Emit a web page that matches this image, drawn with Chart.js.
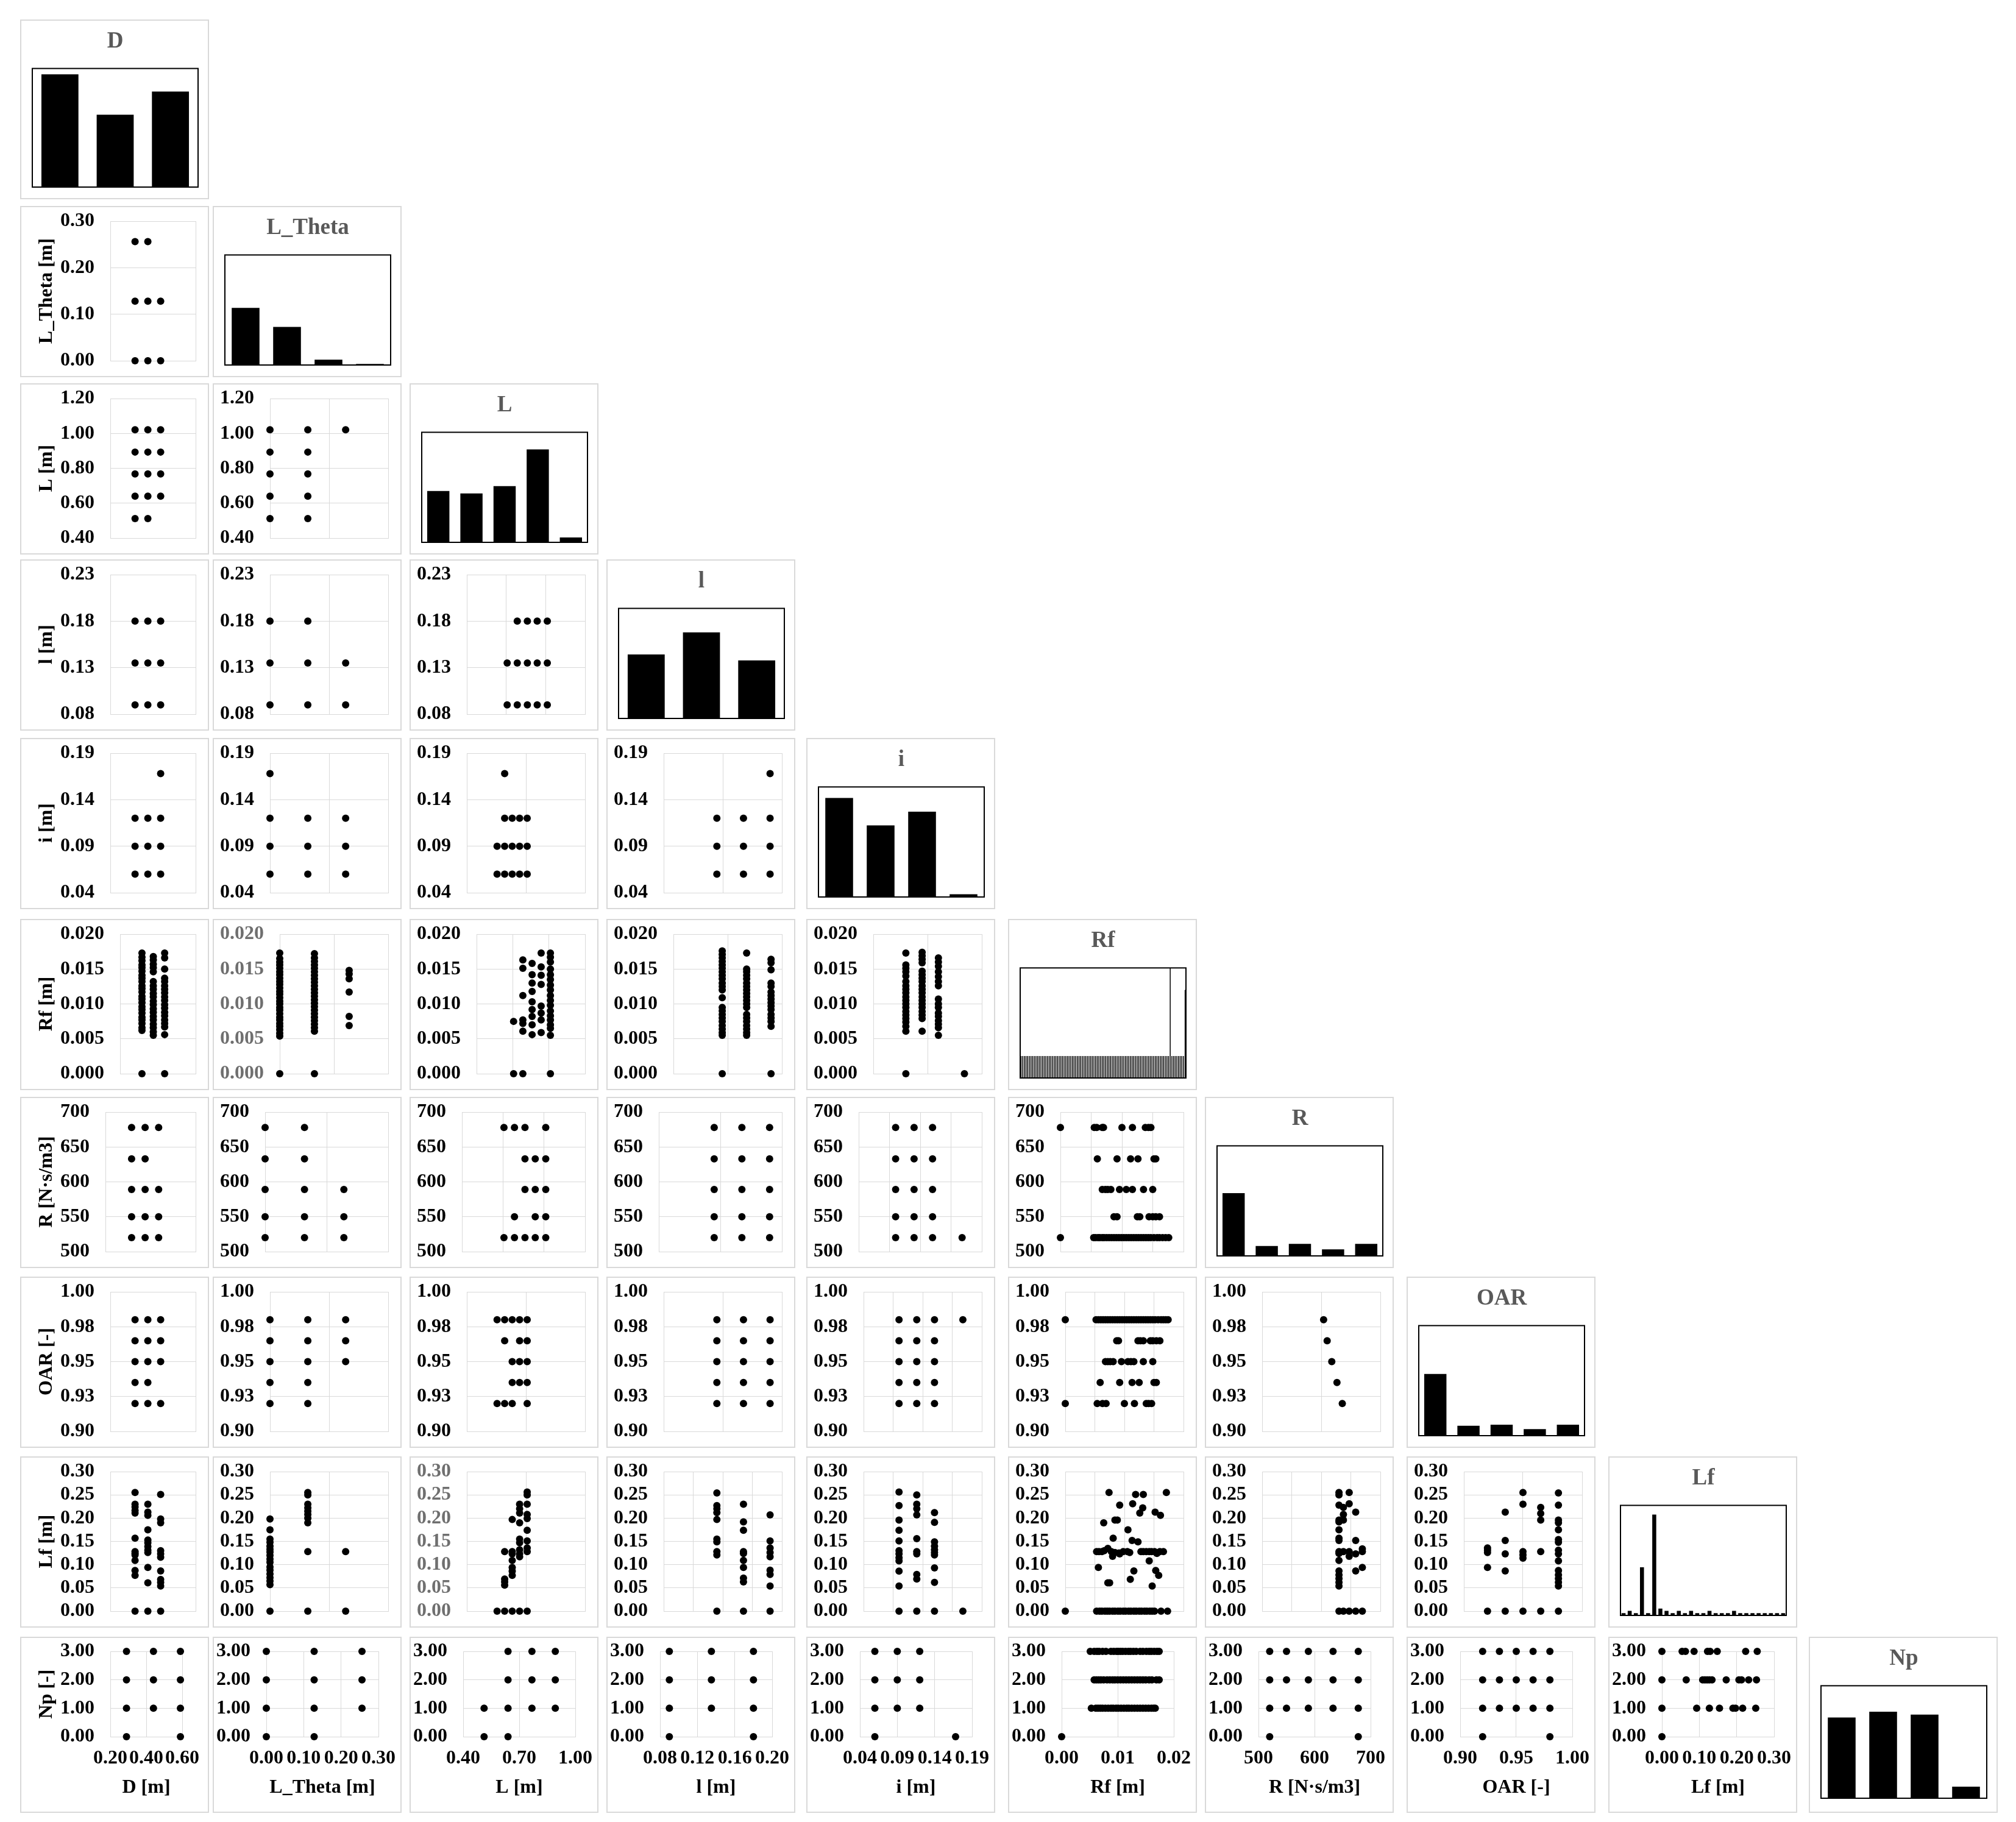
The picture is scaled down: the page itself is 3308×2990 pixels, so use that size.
<!DOCTYPE html>
<html>
<head>
<meta charset="utf-8">
<script src="https://cdn.jsdelivr.net/npm/chart.js@4.4.1/dist/chart.umd.min.js"></script>
<style>
html, body { margin: 0; padding: 0; background: #fff; }
#page { position: relative; width: 3308px; height: 2990px; overflow: hidden; background: #fff; }
.cell { position: absolute; box-sizing: border-box; border: 2px solid #d9d9d9; background: #fff; }
.cell canvas { display: block; }
</style>
</head>
<body>
<div id="page"></div>
<script>
// ---------------------------------------------------------------------------
// VARIABLES
// ---------------------------------------------------------------------------

const VARS        = ['D', 'L_Theta', 'L', 'l', 'i', 'Rf', 'R', 'OAR', 'Lf', 'Np'];
const AXIS_TITLES = ['D [m]', 'L_Theta [m]', 'L [m]', 'l [m]', 'i [m]', 'Rf [m]', 'R [N·s/m3]', 'OAR [-]', 'Lf [m]', 'Np [-]'];

// axes y par ligne (ligne 0 = histogramme D)
const Y_MIN  = [null, 0,    0.4, 0.08, 0.04, 0,     500, 0.9,   0,    0];
const Y_MAX  = [null, 0.3,  1.2, 0.23, 0.19, 0.02,  700, 1.0,   0.3,  3];
const Y_STEP = [null, 0.1,  0.2, 0.05, 0.05, 0.005, 50,  0.025, 0.05, 1];
const Y_DEC  = [null, 2,    2,   2,    2,    3,     0,   2,     2,    2];

// axes x de la dernière ligne : [min, max, pas]
const X_BOTTOM = [
    [0.2, 0.6, 0.2], [0, 0.3, 0.1], [0.4, 1.0, 0.3], [0.08, 0.2, 0.04], [0.04, 0.19, 0.05],
    [0, 0.02, 0.01], [500, 700, 100], [0.9, 1.0, 0.05], [0, 0.3, 0.1],
];
const X_DEC = [2, 2, 2, 2, 2, 2, 0, 2, 2];

// ---------------------------------------------------------------------------
// HISTOGRAMMES (effectifs)
// ---------------------------------------------------------------------------

const HIST_D      = [39, 25, 33];
const HIST_LTHETA = [54, 36, 5, 1];
const HIST_L      = [21, 20, 23, 38, 2];
const HIST_l      = [32, 43, 29];
const HIST_i      = [36, 26, 31, 1];
const HIST_RF     = [
    1, 1, 1, 1, 1, 1, 1, 1, 1, 1, 1, 1, 1, 1, 1, 1, 1, 1, 1, 1,
    1, 1, 1, 1, 1, 1, 1, 1, 1, 1, 1, 1, 1, 1, 1, 1, 1, 1, 1, 1,
    1, 1, 1, 1, 1, 1, 1, 1, 1, 1, 1, 1, 1, 1, 1, 1, 1, 1, 1, 1,
    1, 1, 1, 1, 1, 1, 1, 1, 1, 1, 1, 1, 1, 1, 1, 1, 1, 1, 1, 1,
    1, 1, 1, 1, 1, 1, 1, 1, 1, 1, 5, 1, 1, 1, 1, 1, 1, 1, 1, 4,
];
const HIST_R      = [57, 9, 11, 6, 11];
const HIST_OAR    = [56, 9, 10, 6, 10];
const HIST_LF     = [1, 2, 1, 21, 1, 44, 3, 2, 1, 2, 1, 2, 1, 1, 2, 1, 1, 1, 2, 1, 1, 1, 1, 1, 1, 1, 1];
const HIST_NP     = [28, 30, 29, 4];

// ---------------------------------------------------------------------------
// NUAGES — colonnes [x, [y...]] ou lignes [y, [x...]] ou paires [x, y]
// ---------------------------------------------------------------------------

const LTHETA_VS_D = [[0.29, [0, 0.128, 0.256]], [0.44, [0, 0.128, 0.256]], [0.59, [0, 0.128]]];

const L_VS_D      = [[0.29, [0.512, 0.64, 0.768, 0.893, 1.021]], [0.44, [0.512, 0.64, 0.768, 0.893, 1.021]], [0.59, [0.64, 0.768, 0.893, 1.021]]];
const L_VS_LTHETA = [[0, [0.512, 0.64, 0.768, 0.893, 1.021]], [0.128, [0.512, 0.64, 0.768, 0.893, 1.021]], [0.256, [1.021]]];

const l_VS_D      = [[0.29, [0.09, 0.135, 0.18]], [0.44, [0.09, 0.135, 0.18]], [0.59, [0.09, 0.135, 0.18]]];
const l_VS_LTHETA = [[0, [0.09, 0.135, 0.18]], [0.128, [0.09, 0.135, 0.18]], [0.256, [0.09, 0.135]]];
const l_VS_L      = [[0.512, [0.09, 0.135]], [0.64, [0.09, 0.135, 0.18]], [0.768, [0.09, 0.135, 0.18]], [0.893, [0.09, 0.135, 0.18]], [1.021, [0.09, 0.135, 0.18]]];

const i_VS_D      = [[0.29, [0.06, 0.09, 0.12]], [0.44, [0.06, 0.09, 0.12]], [0.59, [0.06, 0.09, 0.12, 0.168]]];
const i_VS_LTHETA = [[0, [0.06, 0.09, 0.12, 0.168]], [0.128, [0.06, 0.09, 0.12]], [0.256, [0.06, 0.09, 0.12]]];
const i_VS_L      = [[0.512, [0.06, 0.09]], [0.64, [0.06, 0.09, 0.12, 0.168]], [0.768, [0.06, 0.09, 0.12]], [0.893, [0.06, 0.09, 0.12]], [1.021, [0.06, 0.09, 0.12]]];
const i_VS_l      = [[0.09, [0.06, 0.09, 0.12]], [0.135, [0.06, 0.09, 0.12]], [0.18, [0.06, 0.09, 0.12, 0.168]]];

const RF_VS_D = [
    [0.29, [0, 0.0062, 0.0066, 0.0072, 0.0077, 0.0081, 0.0087, 0.0092, 0.0096, 0.0102, 0.0107, 0.0111, 0.0117, 0.0122, 0.0126, 0.0132, 0.0137, 0.0141, 0.0147, 0.0152, 0.0156, 0.0162, 0.0167, 0.0173]],
    [0.44, [0.0055, 0.006, 0.0066, 0.0071, 0.0077, 0.0082, 0.0088, 0.0093, 0.0099, 0.0104, 0.011, 0.0115, 0.0121, 0.0126, 0.0132, 0.0146, 0.0152, 0.0157, 0.0163, 0.0168]],
    [0.59, [0, 0.0056, 0.0067, 0.0072, 0.0077, 0.0083, 0.0088, 0.0094, 0.0099, 0.0105, 0.011, 0.0116, 0.0121, 0.0126, 0.0132, 0.0137, 0.015, 0.0166, 0.0173]],
];
const RF_VS_LTHETA = [
    [0, [0, 0.0054, 0.0058, 0.0063, 0.0068, 0.0072, 0.0077, 0.0081, 0.0086, 0.0091, 0.0095, 0.01, 0.0104, 0.0109, 0.0114, 0.0118, 0.0123, 0.0128, 0.0132, 0.0137, 0.0142, 0.0146, 0.0151, 0.0156, 0.016, 0.0165, 0.0173]],
    [0.128, [0, 0.0061, 0.0066, 0.0071, 0.0076, 0.0081, 0.0086, 0.0091, 0.0096, 0.0101, 0.0106, 0.0111, 0.0116, 0.0121, 0.0126, 0.0131, 0.0136, 0.0141, 0.0146, 0.0151, 0.0156, 0.0161, 0.0166, 0.0172]],
    [0.256, [0.0069, 0.0082, 0.0117, 0.0136, 0.0143, 0.0148]],
];
const RF_VS_L = [
    [0.512, [0, 0.0075]],
    [0.64,  [0, 0.0061, 0.0072, 0.0077, 0.0112, 0.0151, 0.0163]],
    [0.768, [0.0056, 0.007, 0.0082, 0.0092, 0.0103, 0.0118, 0.013, 0.0142, 0.0158]],
    [0.893, [0.0059, 0.0077, 0.0087, 0.0097, 0.0128, 0.0141, 0.0153, 0.0173]],
    [1.021, [0, 0.0055, 0.0065, 0.007, 0.0077, 0.0083, 0.009, 0.0098, 0.0105, 0.0112, 0.012, 0.0127, 0.0135, 0.0142, 0.015, 0.016, 0.0167, 0.0173]],
];
const RF_VS_l = [
    [0.09,  [0, 0.0055, 0.0059, 0.0064, 0.0069, 0.0075, 0.008, 0.0085, 0.009, 0.0095, 0.0109, 0.012, 0.0125, 0.013, 0.0136, 0.0141, 0.0146, 0.0151, 0.0156, 0.0161, 0.0166, 0.0171, 0.0176]],
    [0.135, [0.0055, 0.0059, 0.0064, 0.0069, 0.0075, 0.008, 0.0085, 0.0095, 0.01, 0.0105, 0.011, 0.0115, 0.012, 0.0125, 0.013, 0.0136, 0.0141, 0.0146, 0.015, 0.0173]],
    [0.18,  [0, 0.0068, 0.0075, 0.008, 0.0085, 0.0092, 0.0097, 0.0102, 0.0107, 0.0112, 0.0117, 0.0125, 0.013, 0.0149, 0.0159, 0.0164]],
];
const RF_VS_i = [
    [0.06,  [0, 0.0061, 0.0068, 0.0074, 0.0079, 0.0084, 0.0089, 0.0095, 0.01, 0.0105, 0.011, 0.0116, 0.0121, 0.0126, 0.0132, 0.014, 0.0146, 0.0151, 0.0156, 0.0173]],
    [0.09,  [0.0061, 0.0079, 0.0084, 0.0089, 0.0095, 0.01, 0.0105, 0.011, 0.0116, 0.0121, 0.0126, 0.0132, 0.0137, 0.0142, 0.0147, 0.0159, 0.0164, 0.0169, 0.0174]],
    [0.12,  [0.0055, 0.0066, 0.0071, 0.0076, 0.0082, 0.0087, 0.0095, 0.01, 0.0107, 0.0126, 0.0132, 0.0139, 0.0146, 0.0154, 0.016, 0.0166]],
    [0.168, [0]],
];

const R_VS_D      = [[0.29, [520, 550, 589, 633, 678]], [0.44, [520, 550, 589, 633, 678]], [0.59, [520, 550, 589, 678]]];
const R_VS_LTHETA = [[0, [520, 550, 589, 633, 678]], [0.128, [520, 550, 589, 633, 678]], [0.256, [520, 550, 589]]];
const R_VS_L      = [[0.512, [520, 678]], [0.64, [520, 550, 678]], [0.768, [520, 589, 633, 678]], [0.893, [520, 550, 589, 633]], [1.021, [520, 550, 589, 633, 678]]];
const R_VS_l      = [[0.09, [520, 550, 589, 633, 678]], [0.135, [520, 550, 589, 633, 678]], [0.18, [520, 550, 589, 633, 678]]];
const R_VS_i      = [[0.06, [520, 550, 589, 633, 678]], [0.09, [520, 550, 589, 633, 678]], [0.12, [520, 550, 589, 633, 678]], [0.168, [520]]];
const R_VS_RF = [   // lignes [R, [Rf...]]
    [678, [0, 0.0055, 0.0059, 0.0068, 0.007, 0.01, 0.0117, 0.0138, 0.0143, 0.0147]],
    [633, [0.006, 0.0092, 0.0114, 0.0126, 0.0152, 0.0155]],
    [589, [0.0068, 0.0073, 0.0077, 0.0082, 0.0096, 0.0107, 0.0117, 0.0135, 0.015]],
    [550, [0.0087, 0.0092, 0.0125, 0.0129, 0.0144, 0.015, 0.0155, 0.0161]],
    [520, [0, 0.0054, 0.0057, 0.0061, 0.0064, 0.0068, 0.0071, 0.0075, 0.0079, 0.0083, 0.0087, 0.0091, 0.0095, 0.0099, 0.0103, 0.0107, 0.0111, 0.0115, 0.0119, 0.0123, 0.0127, 0.0131, 0.0135, 0.0139, 0.0143, 0.0147, 0.0152, 0.0157, 0.0161, 0.0166, 0.0171, 0.0176]],
];

const OAR_VS_D      = [[0.29, [0.92, 0.935, 0.95, 0.965, 0.98]], [0.44, [0.92, 0.935, 0.95, 0.965, 0.98]], [0.59, [0.92, 0.95, 0.965, 0.98]]];
const OAR_VS_LTHETA = [[0, [0.92, 0.935, 0.95, 0.965, 0.98]], [0.128, [0.92, 0.935, 0.95, 0.965, 0.98]], [0.256, [0.95, 0.965, 0.98]]];
const OAR_VS_L      = [[0.98, [0.512, 0.64, 0.768, 0.893, 1.021]], [0.965, [0.64, 0.893, 1.021]], [0.95, [0.768, 0.893, 1.021]], [0.935, [0.768, 0.893, 1.021]], [0.92, [0.512, 0.64, 0.768, 1.021]]];
const OAR_VS_l      = [[0.09, [0.92, 0.935, 0.95, 0.965, 0.98]], [0.135, [0.92, 0.935, 0.95, 0.965, 0.98]], [0.18, [0.92, 0.935, 0.95, 0.965, 0.98]]];
const OAR_VS_i      = [[0.06, [0.92, 0.935, 0.95, 0.965, 0.98]], [0.09, [0.92, 0.935, 0.95, 0.965, 0.98]], [0.12, [0.92, 0.935, 0.95, 0.965, 0.98]], [0.168, [0.98]]];
const OAR_VS_RF = [   // lignes [OAR, [Rf...]]
    [0.98,  [0, 0.0052, 0.0056, 0.006, 0.0064, 0.0068, 0.0072, 0.0076, 0.008, 0.0084, 0.0088, 0.0092, 0.0096, 0.01, 0.0104, 0.0108, 0.0112, 0.0116, 0.012, 0.0124, 0.0128, 0.0132, 0.0136, 0.014, 0.0144, 0.0148, 0.0152, 0.0157, 0.0162, 0.0166, 0.017, 0.0174]],
    [0.965, [0.0087, 0.009, 0.0123, 0.0127, 0.0132, 0.0144, 0.0148, 0.0154, 0.016]],
    [0.95,  [0.0068, 0.0072, 0.0076, 0.0081, 0.0095, 0.0106, 0.0111, 0.0116, 0.0132, 0.0148]],
    [0.935, [0.0059, 0.0092, 0.0113, 0.0125, 0.015, 0.0154]],
    [0.92,  [0, 0.0054, 0.0063, 0.0069, 0.01, 0.0117, 0.0137, 0.0141, 0.0146]],
];
const OAR_VS_R = [[520, 0.98], [550, 0.965], [589, 0.95], [633, 0.935], [678, 0.92]];

const LF_VS_D = [
    [0.29, [0, 0.077, 0.0875, 0.109, 0.121, 0.124, 0.128, 0.157, 0.211, 0.2165, 0.224, 0.23, 0.255]],
    [0.44, [0, 0.061, 0.094, 0.126, 0.131, 0.139, 0.147, 0.153, 0.175, 0.206, 0.213, 0.23]],
    [0.59, [0, 0.054, 0.062, 0.068, 0.0865, 0.116, 0.123, 0.13, 0.19, 0.198, 0.251]],
];
const LF_VS_LTHETA = [
    [0,     [0, 0.057, 0.065, 0.072, 0.08, 0.088, 0.095, 0.105, 0.112, 0.12, 0.127, 0.133, 0.14, 0.148, 0.155, 0.175, 0.198]],
    [0.128, [0, 0.128, 0.19, 0.2, 0.208, 0.215, 0.222, 0.23, 0.25, 0.255]],
    [0.256, [0, 0.128]],
];
const LF_VS_L = [
    [0.512, [0]],
    [0.64,  [0, 0.056, 0.063, 0.069, 0.128]],
    [0.768, [0, 0.077, 0.086, 0.094, 0.109, 0.123, 0.128, 0.197]],
    [0.893, [0, 0.117, 0.123, 0.132, 0.147, 0.155, 0.19, 0.211, 0.22, 0.23]],
    [1.021, [0, 0.128, 0.136, 0.151, 0.174, 0.199, 0.208, 0.23, 0.25, 0.256]],
];
const LF_VS_l = [
    [0.09,  [0, 0.121, 0.128, 0.149, 0.155, 0.197, 0.212, 0.22, 0.227, 0.254]],
    [0.135, [0, 0.063, 0.071, 0.094, 0.109, 0.124, 0.128, 0.174, 0.192, 0.23]],
    [0.18,  [0, 0.054, 0.079, 0.088, 0.117, 0.126, 0.136, 0.151, 0.207]],
];
const LF_VS_i = [
    [0.06,  [0, 0.054, 0.086, 0.108, 0.115, 0.123, 0.13, 0.151, 0.174, 0.196, 0.227, 0.256]],
    [0.09,  [0, 0.069, 0.079, 0.123, 0.128, 0.156, 0.207, 0.22, 0.23, 0.25]],
    [0.12,  [0, 0.062, 0.093, 0.121, 0.126, 0.132, 0.14, 0.149, 0.191, 0.212]],
    [0.168, [0]],
];
const LF_VS_RF = [   // paires [Rf, Lf]
    [0, 0], [0.0074, 0.255], [0.0119, 0.251], [0.0132, 0.251], [0.0171, 0.255],
    [0.0092, 0.228], [0.0114, 0.231], [0.0131, 0.222], [0.0126, 0.211], [0.0152, 0.213], [0.0161, 0.206],
    [0.0065, 0.19], [0.0084, 0.196], [0.0088, 0.196], [0.0106, 0.175], [0.0081, 0.157], [0.0113, 0.152], [0.0123, 0.149],
    [0.0053, 0.128], [0.0057, 0.128], [0.0062, 0.128], [0.0066, 0.13], [0.0072, 0.135], [0.0078, 0.128], [0.0084, 0.126],
    [0.0091, 0.125], [0.0098, 0.128], [0.0105, 0.128], [0.0109, 0.126], [0.0128, 0.128], [0.0132, 0.128], [0.0137, 0.128],
    [0.0142, 0.128], [0.0146, 0.128], [0.0151, 0.128], [0.0155, 0.124], [0.016, 0.128], [0.0166, 0.128],
    [0.008, 0.118], [0.0092, 0.123], [0.0142, 0.108], [0.0056, 0.094], [0.0116, 0.0865], [0.0153, 0.0875], [0.0158, 0.077],
    [0.011, 0.0686], [0.0072, 0.061], [0.0075, 0.061], [0.0147, 0.054],
    [0.0053, 0], [0.0058, 0], [0.0062, 0], [0.0067, 0], [0.0071, 0], [0.0075, 0], [0.008, 0], [0.0084, 0], [0.0089, 0],
    [0.0093, 0], [0.0098, 0], [0.0102, 0], [0.0107, 0], [0.0111, 0], [0.0116, 0], [0.012, 0], [0.0125, 0], [0.0129, 0],
    [0.0134, 0], [0.0138, 0], [0.0143, 0], [0.0147, 0], [0.0151, 0], [0.0162, 0], [0.0173, 0],
];
const LF_VS_R = [
    [520, [0, 0.054, 0.062, 0.07, 0.078, 0.0865, 0.109, 0.124, 0.128, 0.152, 0.157, 0.175, 0.192, 0.196, 0.228, 0.25, 0.255]],
    [550, [0, 0.128, 0.196, 0.208, 0.223]],
    [589, [0, 0.118, 0.128, 0.231, 0.255]],
    [633, [0, 0.0865, 0.123, 0.152, 0.213]],
    [678, [0, 0.094, 0.128, 0.134]],
];
const LF_VS_OAR = [
    [0.92,  [0, 0.094, 0.126, 0.131, 0.136]],
    [0.935, [0, 0.0865, 0.123, 0.152, 0.213]],
    [0.95,  [0, 0.114, 0.121, 0.128, 0.23, 0.255]],
    [0.965, [0, 0.128, 0.196, 0.21, 0.223]],
    [0.98,  [0, 0.054, 0.062, 0.07, 0.078, 0.0875, 0.108, 0.123, 0.131, 0.148, 0.154, 0.175, 0.19, 0.196, 0.228, 0.254]],
];

// dernière ligne : lignes [Np, [x...]]
const NP_VS_D      = [[3, [0.29, 0.44, 0.59]], [2, [0.29, 0.44, 0.59]], [1, [0.29, 0.44, 0.59]], [0, [0.29, 0.59]]];
const NP_VS_LTHETA = [[3, [0, 0.128, 0.256]], [2, [0, 0.128, 0.256]], [1, [0, 0.128, 0.256]], [0, [0, 0.128]]];
const NP_VS_L      = [[3, [0.64, 0.768, 0.893]], [2, [0.64, 0.768, 0.893]], [1, [0.512, 0.64, 0.768, 0.893]], [0, [0.512, 0.64]]];
const NP_VS_l      = [[3, [0.09, 0.135, 0.18]], [2, [0.09, 0.135, 0.18]], [1, [0.09, 0.135, 0.18]], [0, [0.09, 0.18]]];
const NP_VS_i      = [[3, [0.06, 0.09, 0.12]], [2, [0.06, 0.09, 0.12]], [1, [0.06, 0.09, 0.12]], [0, [0.06, 0.168]]];
const NP_VS_RF = [
    [3, [0.0051, 0.0058, 0.0063, 0.0067, 0.0073, 0.0079, 0.0088, 0.0093, 0.0098, 0.0101, 0.0105, 0.0109, 0.0114, 0.0119, 0.0123, 0.0128, 0.0133, 0.014, 0.0145, 0.0151, 0.0156, 0.016, 0.0165, 0.017, 0.0174]],
    [2, [0.0058, 0.0062, 0.0066, 0.007, 0.0075, 0.0081, 0.0086, 0.0091, 0.0095, 0.01, 0.0105, 0.011, 0.0115, 0.012, 0.0125, 0.013, 0.0135, 0.014, 0.0145, 0.015, 0.0156, 0.0161, 0.0169, 0.0174]],
    [1, [0.0053, 0.0061, 0.0065, 0.0069, 0.0073, 0.0078, 0.0083, 0.0088, 0.0092, 0.0097, 0.0101, 0.0106, 0.0111, 0.0116, 0.012, 0.0125, 0.013, 0.0135, 0.014, 0.0145, 0.015, 0.0155, 0.016, 0.0164, 0.0167]],
    [0, [0]],
];
const NP_VS_R   = [[3, [520, 550, 589, 633, 678]], [2, [520, 550, 589, 633, 678]], [1, [520, 550, 589, 633, 678]], [0, [520, 678]]];
const NP_VS_OAR = [[3, [0.92, 0.935, 0.95, 0.965, 0.98]], [2, [0.92, 0.935, 0.95, 0.965, 0.98]], [1, [0.92, 0.935, 0.95, 0.965, 0.98]], [0, [0.92, 0.98]]];
const NP_VS_LF  = [
    [3, [0, 0.054, 0.063, 0.086, 0.122, 0.129, 0.148, 0.224, 0.255]],
    [2, [0, 0.065, 0.109, 0.115, 0.121, 0.127, 0.134, 0.172, 0.206, 0.213, 0.232, 0.253]],
    [1, [0, 0.093, 0.127, 0.154, 0.19, 0.197, 0.216, 0.251]],
    [0, [0]],
];

// ---------------------------------------------------------------------------
// PANNEAUX — x : [min, max, pas] de l'axe horizontal propre à chaque graphique
// ---------------------------------------------------------------------------

const PANELS = [
    { r: 1, c: 0, x: [0, 1, 1],       v: LTHETA_VS_D },
    { r: 2, c: 0, x: [0, 1, 1],       v: L_VS_D },
    { r: 2, c: 1, x: [0, 0.4, 0.2],   v: L_VS_LTHETA },
    { r: 3, c: 0, x: [0, 1, 1],       v: l_VS_D },
    { r: 3, c: 1, x: [0, 0.4, 0.2],   v: l_VS_LTHETA },
    { r: 3, c: 2, x: [0, 1.5, 0.5],   v: l_VS_L },
    { r: 4, c: 0, x: [0, 1, 1],       v: i_VS_D },
    { r: 4, c: 1, x: [0, 0.4, 0.2],   v: i_VS_LTHETA },
    { r: 4, c: 2, x: [0, 2, 1],       v: i_VS_L },
    { r: 4, c: 3, x: [0, 0.2, 0.1],   v: i_VS_l },
    { r: 5, c: 0, x: [0, 1, 1],       v: RF_VS_D },
    { r: 5, c: 1, x: [0, 0.4, 0.2],   v: RF_VS_LTHETA, gray: true },
    { r: 5, c: 2, x: [0, 1.5, 0.5],   v: RF_VS_L },
    { r: 5, c: 3, x: [0, 0.2, 0.1],   v: RF_VS_l },
    { r: 5, c: 4, x: [0, 0.2, 0.1],   v: RF_VS_i },
    { r: 6, c: 0, x: [0, 1, 1],       v: R_VS_D },
    { r: 6, c: 1, x: [0, 0.4, 0.2],   v: R_VS_LTHETA },
    { r: 6, c: 2, x: [0, 1.5, 0.5],   v: R_VS_L },
    { r: 6, c: 3, x: [0, 0.2, 0.1],   v: R_VS_l },
    { r: 6, c: 4, x: [0, 0.2, 0.05],  v: R_VS_i },
    { r: 6, c: 5, x: [0, 0.02, 0.005], h: R_VS_RF },
    { r: 7, c: 0, x: [0, 1, 1],       v: OAR_VS_D },
    { r: 7, c: 1, x: [0, 0.4, 0.2],   v: OAR_VS_LTHETA },
    { r: 7, c: 2, x: [0, 2, 1],       h: OAR_VS_L },
    { r: 7, c: 3, x: [0, 0.2, 0.1],   v: OAR_VS_l },
    { r: 7, c: 4, x: [0, 0.2, 0.05],  v: OAR_VS_i },
    { r: 7, c: 5, x: [0, 0.02, 0.005], h: OAR_VS_RF },
    { r: 7, c: 6, x: [0, 1000, 500],  p: OAR_VS_R },
    { r: 8, c: 0, x: [0, 1, 1],       v: LF_VS_D },
    { r: 8, c: 1, x: [0, 0.4, 0.2],   v: LF_VS_LTHETA },
    { r: 8, c: 2, x: [0, 2, 1],       v: LF_VS_L, gray: true },
    { r: 8, c: 3, x: [0, 0.2, 0.05],  v: LF_VS_l },
    { r: 8, c: 4, x: [0, 0.2, 0.05],  v: LF_VS_i },
    { r: 8, c: 5, x: [0, 0.02, 0.005], p: LF_VS_RF },
    { r: 8, c: 6, x: [0, 800, 200],   v: LF_VS_R },
    { r: 8, c: 7, x: [0.9, 1.0, 0.05], v: LF_VS_OAR },
    { r: 9, c: 0, h: NP_VS_D },
    { r: 9, c: 1, h: NP_VS_LTHETA },
    { r: 9, c: 2, h: NP_VS_L },
    { r: 9, c: 3, h: NP_VS_l },
    { r: 9, c: 4, h: NP_VS_i },
    { r: 9, c: 5, h: NP_VS_RF },
    { r: 9, c: 6, h: NP_VS_R },
    { r: 9, c: 7, h: NP_VS_OAR },
    { r: 9, c: 8, h: NP_VS_LF },
];

const HISTS = [
    { k: 0, counts: HIST_D,      max: 41 },
    { k: 1, counts: HIST_LTHETA, max: 104 },
    { k: 2, counts: HIST_L,      max: 45 },
    { k: 3, counts: HIST_l,      max: 55 },
    { k: 4, counts: HIST_i,      max: 40 },
    { k: 5, counts: HIST_RF,     max: 5, bp: 0.55 },
    { k: 6, counts: HIST_R,      max: 100 },
    { k: 7, counts: HIST_OAR,    max: 100 },
    { k: 8, counts: HIST_LF,     max: 48, bp: 0.65 },
    { k: 9, counts: HIST_NP,     max: 39 },
];

// ---------------------------------------------------------------------------
// MISE EN PAGE
// ---------------------------------------------------------------------------

const FONT     = '"Liberation Serif", "Times New Roman", serif';
const COL_LEFT = [33, 349, 672, 995, 1323, 1654, 1977, 2308, 2639, 2968];
const ROW_TOP  = [32, 338, 629, 918, 1211, 1508, 1800, 2095, 2390, 2686];
const CELL_W   = 310;
const GRID     = '#d9d9d9';
const TICK_GAP = 26;     // écart libellés / zone de tracé
const TITLE_W  = 54;     // place du titre vertical (colonne 0)

function hauteurCellule(r) {
    return r === 0 ? 295 : (r === 9 ? 289 : 281);
}

function creerCellule(r, c) {
    const h   = hauteurCellule(r);
    const div = document.createElement('div');
    div.className    = 'cell';
    div.style.left   = COL_LEFT[c] + 'px';
    div.style.top    = ROW_TOP[r] + 'px';
    div.style.width  = CELL_W + 'px';
    div.style.height = h + 'px';
    const cv = document.createElement('canvas');
    cv.width  = CELL_W - 4;
    cv.height = h - 4;
    cv.style.width  = (CELL_W - 4) + 'px';
    cv.style.height = (h - 4) + 'px';
    div.appendChild(cv);
    document.getElementById('page').appendChild(div);
    return cv;
}

function fmt(v, d) {
    const f = Math.pow(10, d);
    return (Math.round(v * f + 1e-6) / f).toFixed(d);
}

function points(panel) {
    const pts = [];
    (panel.v || []).forEach(([x, ys]) => ys.forEach(y => pts.push({ x, y })));
    (panel.h || []).forEach(([y, xs]) => xs.forEach(x => pts.push({ x, y })));
    (panel.p || []).forEach(([x, y]) => pts.push({ x, y }));
    return pts;
}

// cadre noir des histogrammes
const cadre = {
    id: 'cadre',
    afterDraw(chart) {
        const { ctx, chartArea: a } = chart;
        ctx.save();
        ctx.strokeStyle = '#000';
        ctx.lineWidth   = 2;
        ctx.strokeRect(a.left, a.top, a.right - a.left, a.bottom - a.top);
        ctx.restore();
    },
};

function dessinerNuage(panel) {
    const { r, c } = panel;
    const bas  = r === 9;
    const cv   = creerCellule(r, c);
    const xr   = bas ? X_BOTTOM[c] : panel.x;
    const font = { family: FONT, size: 32, weight: 'bold' };

    new Chart(cv, {
        type: 'scatter',
        data: {
            datasets: [{
                data: points(panel),
                pointRadius: 6,
                pointHoverRadius: 6,
                pointBackgroundColor: '#000',
                pointBorderWidth: 0,
                clip: false,
            }],
        },
        options: {
            responsive: false,
            animation:  false,
            events:     [],
            layout: {
                padding: {
                    left:   (bas && c > 0) ? 4 : 10,
                    right:  bas ? (c === 0 ? 42 : 36) : 20,
                    top:    bas ? 22 : 23,
                    bottom: bas ? 20 : 25,
                },
            },
            plugins: { legend: { display: false }, tooltip: { enabled: false } },
            scales: {
                x: {
                    type: 'linear',
                    min:  xr[0],
                    max:  xr[1],
                    grid:   { color: GRID, drawTicks: false },
                    border: { color: GRID },
                    ticks: {
                        display:     bas,
                        stepSize:    xr[2],
                        autoSkip:    false,
                        maxRotation: 0,
                        minRotation: 0,
                        padding:     17,
                        color:       '#000',
                        font,
                        callback: v => fmt(v, X_DEC[c]),
                    },
                    title: {
                        display: bas,
                        text:    AXIS_TITLES[c],
                        color:   '#000',
                        font,
                        padding: { top: 0, bottom: 0 },
                    },
                    afterFit(s) {
                        s.height = bas ? 103 : 0;
                        s.paddingLeft  = 0;
                        s.paddingRight = 0;
                    },
                },
                y: {
                    min: Y_MIN[r],
                    max: Y_MAX[r],
                    grid:   { color: GRID, drawTicks: false },
                    border: { color: GRID },
                    ticks: {
                        stepSize: Y_STEP[r],
                        autoSkip: false,
                        padding:  TICK_GAP,
                        color:    panel.gray ? '#6f6f6f' : '#000',
                        font,
                        callback: v => fmt(v, Y_DEC[r]),
                    },
                    title: {
                        display: c === 0,
                        text:    AXIS_TITLES[r],
                        color:   '#000',
                        font,
                        padding: { top: 13, bottom: 3 },
                    },
                    afterFit(s) {
                        const ctx = s.ctx;
                        ctx.save();
                        ctx.font = `bold 32px ${FONT}`;
                        const w = Math.max(...s.ticks.map(t => ctx.measureText(String(t.label)).width));
                        ctx.restore();
                        s.width = w + TICK_GAP + (c === 0 ? TITLE_W : 0);
                        s.paddingTop    = 0;
                        s.paddingBottom = 0;
                    },
                },
            },
        },
    });
}

function dessinerHisto(h) {
    const cv = creerCellule(h.k, h.k);
    new Chart(cv, {
        type: 'bar',
        data: {
            labels: h.counts.map((_, i) => i),
            datasets: [{
                data: h.counts,
                backgroundColor: '#000',
                borderWidth: 0,
                barPercentage: h.bp || 0.67,
                categoryPercentage: 1,
            }],
        },
        options: {
            responsive: false,
            animation:  false,
            events:     [],
            layout: { padding: { left: 18, right: 16, top: 0, bottom: h.k === 9 ? 22 : 18 } },
            plugins: {
                legend:  { display: false },
                tooltip: { enabled: false },
                title: {
                    display: true,
                    text:    VARS[h.k],
                    color:   '#595959',
                    font:    { family: FONT, size: 37, weight: 'bold' },
                    padding: { top: 12, bottom: 22 },
                },
            },
            scales: {
                x: { display: false },
                y: { display: false, min: 0, max: h.max },
            },
        },
        plugins: [cadre],
    });
}

// ---------------------------------------------------------------------------
// LANCEMENT
// ---------------------------------------------------------------------------

HISTS.forEach(dessinerHisto);
PANELS.forEach(dessinerNuage);
</script>
</body>
</html>
